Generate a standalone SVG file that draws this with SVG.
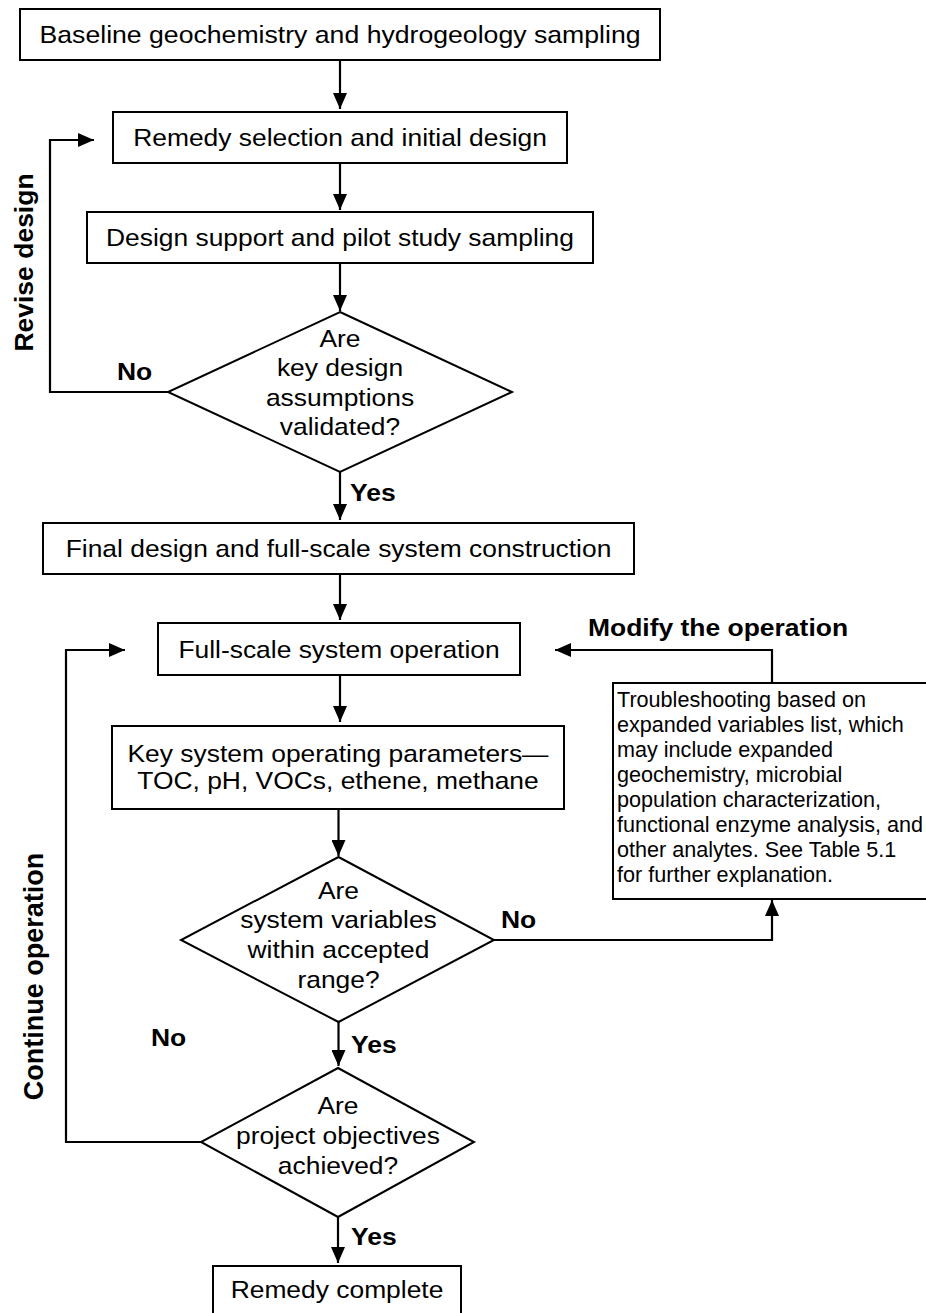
<svg xmlns="http://www.w3.org/2000/svg" width="926" height="1313" viewBox="0 0 926 1313">
<style>
.box{fill:#fff;stroke:#000;stroke-width:2}
.t{font-family:"Liberation Sans",Arial,Helvetica,sans-serif;font-size:24px;fill:#000;text-anchor:middle}
.s{font-family:"Liberation Sans",Arial,Helvetica,sans-serif;font-size:21.6px;fill:#000}
.b{font-family:"Liberation Sans",Arial,Helvetica,sans-serif;font-size:24.5px;font-weight:bold;fill:#000}
.v{font-family:"Liberation Sans",Arial,Helvetica,sans-serif;font-weight:bold;fill:#000;text-anchor:middle}
.c{fill:none;stroke:#000;stroke-width:2.2}
</style>
<defs>
<marker id="ah" markerUnits="userSpaceOnUse" markerWidth="16" markerHeight="14" refX="16" refY="7" orient="auto">
<path d="M0,0 L16,7 L0,14 z" fill="#000"/>
</marker>
</defs>
<rect width="926" height="1313" fill="#fff"/>

<g id="connectors">
<path class="c" d="M340,60 V109" marker-end="url(#ah)"/>
<path class="c" d="M340,163 V210" marker-end="url(#ah)"/>
<path class="c" d="M340,263 V311" marker-end="url(#ah)"/>
<path class="c" d="M168,392 H50 V140 H94" marker-end="url(#ah)"/>
<path class="c" d="M340,472 V520" marker-end="url(#ah)"/>
<path class="c" d="M340,574 V620" marker-end="url(#ah)"/>
<path class="c" d="M340,675 V722" marker-end="url(#ah)"/>
<path class="c" d="M338.5,809 V856" marker-end="url(#ah)"/>
<path class="c" d="M494,940 H772 V900" marker-end="url(#ah)"/>
<path class="c" d="M772,683 V650 H555" marker-end="url(#ah)"/>
<path class="c" d="M338.5,1022 V1066" marker-end="url(#ah)"/>
<path class="c" d="M201,1142 H66 V650 H125" marker-end="url(#ah)"/>
<path class="c" d="M338,1217 V1263" marker-end="url(#ah)"/>
</g>

<g id="labels">
<text class="v" font-size="26.5" transform="translate(33,262.5) rotate(-90)">Revise design</text>
<text class="v" font-size="27" transform="translate(43,976.5) rotate(-90)">Continue operation</text>
<text class="b" transform="translate(117,380) scale(1.08,1)">No</text>
<text class="b" transform="translate(350,501) scale(1.08,1)">Yes</text>
<text class="b" transform="translate(588,636) scale(1.08,1)">Modify the operation</text>
<text class="b" transform="translate(501,928) scale(1.08,1)">No</text>
<text class="b" transform="translate(351,1053) scale(1.08,1)">Yes</text>
<text class="b" transform="translate(151,1046) scale(1.08,1)">No</text>
<text class="b" transform="translate(351,1245) scale(1.08,1)">Yes</text>
</g>

<g id="baseline-sampling">
<rect class="box" x="20" y="9" width="640" height="51"/>
<text class="t" transform="translate(340,43) scale(1.11,1)">Baseline geochemistry and hydrogeology sampling</text>
</g>

<g id="remedy-selection">
<rect class="box" x="113" y="112" width="454" height="51"/>
<text class="t" transform="translate(340,146) scale(1.1,1)">Remedy selection and initial design</text>
</g>

<g id="design-support">
<rect class="box" x="87" y="212" width="506" height="51"/>
<text class="t" transform="translate(340,246) scale(1.1,1)">Design support and pilot study sampling</text>
</g>

<g id="decision-assumptions">
<polygon class="box" points="340,312 512,392 340,472 168,392"/>
<text class="t" transform="translate(340,347) scale(1.1,1)"><tspan x="0">Are</tspan><tspan x="0" dy="29.5">key design</tspan><tspan x="0" dy="29.5">assumptions</tspan><tspan x="0" dy="29.5">validated?</tspan></text>
</g>

<g id="final-design">
<rect class="box" x="43" y="523" width="591" height="51"/>
<text class="t" transform="translate(338.5,557) scale(1.1,1)">Final design and full-scale system construction</text>
</g>

<g id="full-scale-operation">
<rect class="box" x="158" y="623" width="362" height="52"/>
<text class="t" transform="translate(339,658) scale(1.1,1)">Full-scale system operation</text>
</g>

<g id="key-parameters">
<rect class="box" x="112" y="726" width="452" height="83"/>
<text class="t" transform="translate(338,761.5) scale(1.1,1)"><tspan x="0">Key system operating parameters—</tspan><tspan x="0" dy="28">TOC, pH, VOCs, ethene, methane</tspan></text>
</g>

<g id="troubleshooting">
<rect class="box" x="613" y="683" width="320" height="216"/>
<text class="s"><tspan x="617" y="707.3">Troubleshooting based on</tspan><tspan x="617" dy="24.9">expanded variables list, which</tspan><tspan x="617" dy="24.9">may include expanded</tspan><tspan x="617" dy="24.9">geochemistry, microbial</tspan><tspan x="617" dy="24.9">population characterization,</tspan><tspan x="617" dy="24.9">functional enzyme analysis, and</tspan><tspan x="617" dy="24.9">other analytes. See Table 5.1</tspan><tspan x="617" dy="24.9">for further explanation.</tspan></text>
</g>

<g id="decision-variables">
<polygon class="box" points="338.5,857 494,940 338.5,1022 181,940"/>
<text class="t" transform="translate(338.5,898.5) scale(1.1,1)"><tspan x="0">Are</tspan><tspan x="0" dy="30">system variables</tspan><tspan x="0" dy="30">within accepted</tspan><tspan x="0" dy="30">range?</tspan></text>
</g>

<g id="decision-objectives">
<polygon class="box" points="338,1068 474,1142 338,1217 201,1142"/>
<text class="t" transform="translate(338,1113.5) scale(1.1,1)"><tspan x="0">Are</tspan><tspan x="0" dy="30.5">project objectives</tspan><tspan x="0" dy="30.5">achieved?</tspan></text>
</g>

<g id="remedy-complete">
<rect class="box" x="213" y="1266" width="248" height="52"/>
<text class="t" transform="translate(337,1298) scale(1.1,1)">Remedy complete</text>
</g>
</svg>
